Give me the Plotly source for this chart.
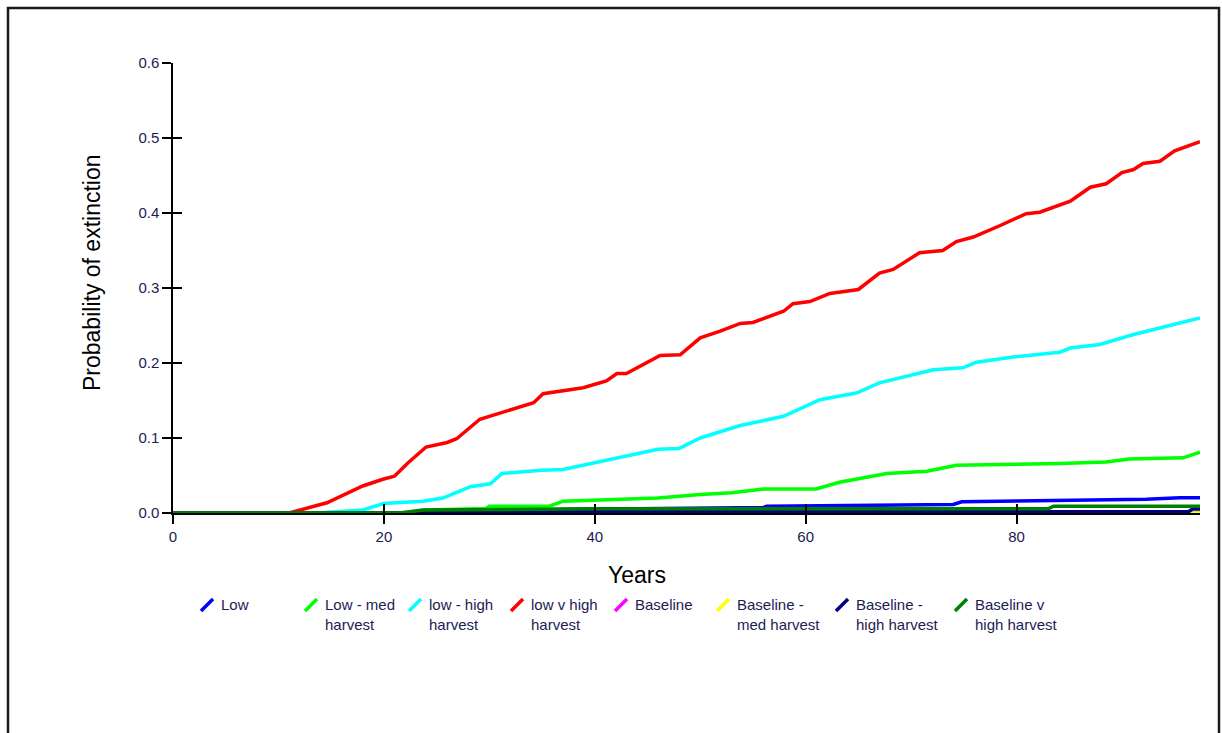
import plotly.graph_objects as go

# ---------------- data ----------------
series_names = ["Low", "Low - med<br>harvest", "low - high<br>harvest", "low v high<br>harvest",
                "Baseline", "Baseline -<br>med harvest", "Baseline -<br>high harvest",
                "Baseline v<br>high harvest"]
series_colors = ["#0000FF", "#00FF00", "#00FFFF", "#FF0000",
                 "#FF00FF", "#FFFF00", "#000080", "#008000"]

low_x = [0, 22, 24, 36, 45, 56, 56.3, 66.4, 74, 74.8, 87.4, 92.3, 95.5, 97.4]
low_y = [0, 0, 0.003, 0.005, 0.0056, 0.0075, 0.009, 0.0104, 0.0113, 0.015, 0.0167, 0.0183, 0.0203, 0.0203]

lowmed_x = [0, 22, 24, 29.7, 30, 35.7, 37, 42, 46, 50, 53, 56, 61, 63.2, 66.1, 67.7, 71.5, 74.3,
            84.1, 88.5, 90.7, 95.8, 97.4]
lowmed_y = [0, 0, 0.004, 0.006, 0.009, 0.009, 0.0157, 0.018, 0.02, 0.0247, 0.027, 0.032, 0.032,
            0.041, 0.048, 0.0527, 0.0557, 0.0637, 0.066, 0.068, 0.072, 0.0736, 0.081]

lowhigh_x = [0, 13.6, 18, 20, 23.7, 25.6, 28.2, 30.1, 31.2, 33, 35, 37, 40, 42.4, 46, 48, 50,
             53.8, 57.9, 61.35, 64.8, 67, 72.1, 74.9, 76.2, 79.7, 84.1, 85.1, 87.9, 91.1, 94.2, 97.4]
lowhigh_y = [0, 0, 0.004, 0.0127, 0.0157, 0.02, 0.035, 0.039, 0.0527, 0.0547, 0.057, 0.058, 0.067,
             0.075, 0.085, 0.086, 0.1, 0.1167, 0.129, 0.151, 0.16, 0.1736, 0.191, 0.1936, 0.201,
             0.208, 0.2144, 0.22, 0.2247, 0.238, 0.249, 0.26]

lowvhigh_x = [0, 11, 14.6, 18, 19.9, 21, 22.3, 24, 26, 26.9, 29.1, 31, 32.9, 34.2, 35.1, 38.9,
              41.1, 42.1, 43, 46.2, 48.1, 50, 51.9, 53.8, 55, 57.9, 58.8, 60.4, 62.3, 65, 67, 68.3,
              70.8, 73, 74.3, 75.9, 78.4, 80.9, 82.2, 85.1, 87, 88.5, 90, 91.1, 92, 93.6, 95, 97.4]
lowvhigh_y = [0, 0, 0.0136, 0.036, 0.045, 0.049, 0.067, 0.088, 0.094, 0.099, 0.125, 0.1336, 0.1416,
              0.147, 0.159, 0.167, 0.176, 0.186, 0.186, 0.21, 0.211, 0.2336, 0.2424, 0.2527, 0.254,
              0.269, 0.279, 0.282, 0.2927, 0.298, 0.32, 0.3247, 0.347, 0.35, 0.362, 0.368, 0.383,
              0.399, 0.401, 0.4157, 0.4344, 0.439, 0.454, 0.458, 0.466, 0.469, 0.483, 0.495]

base_x = [0, 97.4]
base_y = [0, 0]

basemed_x = [0, 97.4]
basemed_y = [0, 0]

basehigh_x = [0, 22, 24, 96.3, 96.7, 97.4]
basehigh_y = [0, 0, 0.0016, 0.0016, 0.0053, 0.0053]

basevhigh_x = [0, 21.5, 23.7, 30, 40, 83, 83.5, 97.4]
basevhigh_y = [0, 0, 0.004, 0.005, 0.0056, 0.0056, 0.009, 0.009]

series_x = [low_x, lowmed_x, lowhigh_x, lowvhigh_x, base_x, basemed_x, basehigh_x, basevhigh_x]
series_y = [low_y, lowmed_y, lowhigh_y, lowvhigh_y, base_y, basemed_y, basehigh_y, basevhigh_y]

x_ticks = [0, 20, 40, 60, 80]
y_ticks = [0.0, 0.1, 0.2, 0.3, 0.4, 0.5, 0.6]

# ---------------- layout geometry ----------------
OFF = 0  # page body margin (removed via post_script)
W, H = 1222 - OFF, 733 - OFF
L, R, T, B = 173 - OFF, 22, 63 - OFF, 220
PW, PH = W - L - R, H - T - B


def xp(px):
    return (px - OFF - L) / PW


def yp(py):
    return (H - B - (py - OFF)) / PH


fig = go.Figure()
for name, c, xs, ys in zip(series_names, series_colors, series_x, series_y):
    fig.add_trace(go.Scatter(x=xs, y=ys, mode="lines", name=name.replace("<br>", " "),
                             line=dict(color=c, width=3.5), showlegend=False))

# dummy trace for the inside-tick overlay axes
fig.add_trace(go.Scatter(x=[None], y=[None], xaxis="x2", yaxis="y2", showlegend=False,
                         hoverinfo="skip"))

tick_font = dict(family="Liberation Sans, Arial, sans-serif", size=15, color="#1c1c55")

fig.update_layout(
    width=W, height=H,
    margin=dict(l=L, r=R, t=T, b=B, pad=0),
    paper_bgcolor="white", plot_bgcolor="white",
    showlegend=False,
    xaxis=dict(range=[0, 97.4], tickvals=x_ticks, ticktext=[str(v) for v in x_ticks],
               showgrid=False, zeroline=False, showline=True, linecolor="black", linewidth=1.5,
               ticks="outside", ticklen=9, tickcolor="black", tickwidth=1.5,
               tickfont=tick_font),
    yaxis=dict(range=[0, 0.6], tickvals=y_ticks, ticktext=["%.1f" % v for v in y_ticks],
               showgrid=False, zeroline=False, showline=True, linecolor="black", linewidth=1.5,
               ticks="outside", ticklen=9, tickcolor="black", tickwidth=1.5,
               tickfont=tick_font),
    xaxis2=dict(overlaying="x", matches="x", anchor="y2", side="bottom", tickvals=x_ticks,
                showticklabels=False, showgrid=False, zeroline=False, showline=False,
                ticks="inside", ticklen=9, tickcolor="black", tickwidth=1.5),
    yaxis2=dict(overlaying="y", matches="y", anchor="x2", side="left", tickvals=y_ticks,
                showticklabels=False, showgrid=False, zeroline=False, showline=False,
                ticks="inside", ticklen=9, tickcolor="black", tickwidth=1.5),
)

title_font = dict(family="Liberation Sans, Arial, sans-serif", size=23, color="black")
fig.add_annotation(text="Years", xref="paper", yref="paper", x=xp(637), y=yp(575),
                   xanchor="center", yanchor="middle", showarrow=False, font=title_font)
fig.add_annotation(text="Probability of extinction", xref="paper", yref="paper",
                   x=xp(92), y=yp(273), xanchor="center", yanchor="middle",
                   textangle=-90, showarrow=False, font=title_font)

# custom legend with slanted line symbols
legend_sym_x = [201, 305, 409, 511, 615, 717, 836, 955]
legend_font = dict(family="Liberation Sans, Arial, sans-serif", size=15, color="#1c1c55")
for name, c, sx in zip(series_names, series_colors, legend_sym_x):
    fig.add_shape(type="line", xref="paper", yref="paper",
                  x0=xp(sx), y0=yp(611), x1=xp(sx + 12), y1=yp(599),
                  line=dict(color=c, width=3.5))
    fig.add_annotation(text=name, xref="paper", yref="paper", x=xp(sx + 18), y=yp(594),
                       xanchor="left", yanchor="top", align="left", showarrow=False,
                       font=legend_font)

# outer frame
fig.add_shape(type="rect", xref="paper", yref="paper",
              x0=xp(8), x1=xp(1219), y0=yp(745), y1=yp(8),
              line=dict(color="#1a1a1a", width=2.5), fillcolor="rgba(0,0,0,0)", layer="above")

fig.write_html("out.html", config={"displayModeBar": False},
               post_script="document.body.style.margin='0px';"
                           "document.body.style.overflow='hidden';")
